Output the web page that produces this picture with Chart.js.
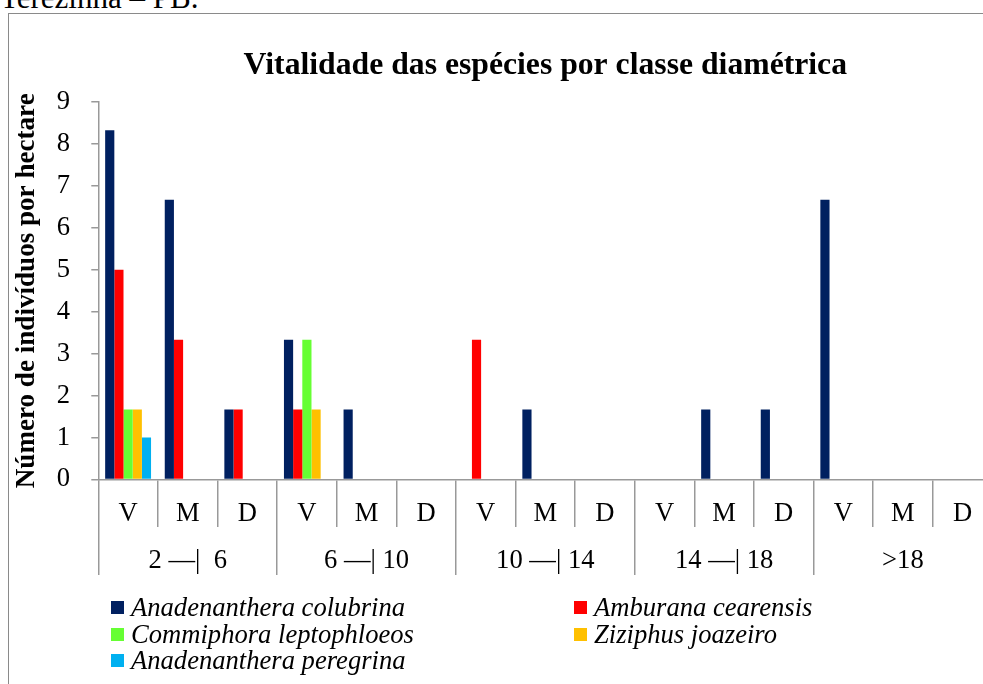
<!DOCTYPE html>
<html>
<head>
<meta charset="utf-8">
<script src="https://cdn.jsdelivr.net/npm/chart.js@4/dist/chart.umd.min.js"></script>
<style>
  html, body { margin: 0; padding: 0; background: #fff; overflow: hidden; width: 983px; height: 684px; }
  #wrap { position: absolute; left: 0; top: 0; width: 1000px; height: 684px; }
  #frame { position: absolute; left: 8px; top: 13px; width: 1200px; height: 1000px; border: 1px solid #8a8a8a; box-sizing: border-box; pointer-events: none; }
  #caption { position: absolute; left: 0px; top: -18px; font: 31px/31px 'Liberation Serif', 'Times New Roman', serif; color: #000; white-space: nowrap; }
  #legend { position: absolute; left: 111px; top: 594px; display: grid; grid-template-columns: 463px 400px; font: italic 26.6px/26.5px 'Liberation Serif', 'Times New Roman', serif; color: #000; }
  #legend .item { white-space: nowrap; }
  #legend .box { display: inline-block; width: 13px; height: 13px; margin-right: 7px; vertical-align: 2px; }
</style>
</head>
<body>
<div id="caption">Terezinha – PB.</div>
<div id="frame"></div>
<div id="wrap"><canvas id="c" width="1000" height="684"></canvas></div>
<div id="legend"></div>
<script>
// ---- data ----
const categories = ['V', 'M', 'D', 'V', 'M', 'D', 'V', 'M', 'D', 'V', 'M', 'D', 'V', 'M', 'D'];
const classLabels = ['2 —|  6', '6 —| 10', '10 —| 14', '14 —| 18', '>18'];
const yTicks = [0, 1, 2, 3, 4, 5, 6, 7, 8, 9];
const seriesNames = ['Anadenanthera colubrina', 'Amburana cearensis', 'Commiphora leptophloeos', 'Ziziphus joazeiro', 'Anadenanthera peregrina'];
const colubrina  = [8.33, 6.67, 1.67, 3.33, 1.67, 0, 0, 1.67, 0, 0, 1.67, 1.67, 6.67, 0, 0];
const amburana   = [5.00, 3.33, 1.67, 1.67, 0, 0, 3.33, 0, 0, 0, 0, 0, 0, 0, 0];
const commiphora = [1.67, 0, 0, 3.33, 0, 0, 0, 0, 0, 0, 0, 0, 0, 0, 0];
const ziziphus   = [1.67, 0, 0, 1.67, 0, 0, 0, 0, 0, 0, 0, 0, 0, 0, 0];
const peregrina  = [1.00, 0, 0, 0, 0, 0, 0, 0, 0, 0, 0, 0, 0, 0, 0];
const seriesColors = ['#002060', '#FF0000', '#66FF33', '#FFC000', '#00B0F0'];
const seriesValues = [colubrina, amburana, commiphora, ziziphus, peregrina];

const FONT = "'Liberation Serif', 'Times New Roman', serif";
const AXIS = '#999999';

const datasets = seriesNames.map((name, i) => ({
  label: name,
  data: seriesValues[i],
  backgroundColor: seriesColors[i],
  borderWidth: 0,
  categoryPercentage: 0.77,
  barPercentage: 1.0
}));

const chart = new Chart(document.getElementById('c'), {
  type: 'bar',
  data: { labels: categories, datasets },
  options: {
    responsive: false,
    animation: false,
    devicePixelRatio: 1,
    layout: { padding: { left: 6.84, right: 7.7, top: 0, bottom: 102 } },
    plugins: {
      legend: { display: false },
      tooltip: { enabled: false },
      title: {
        display: true,
        text: 'Vitalidade das espécies por classe diamétrica',
        fullSize: false,
        color: '#000',
        font: { family: FONT, size: 31.7, weight: 'bold', lineHeight: 1.2 },
        padding: { top: 47, bottom: 17 }
      }
    },
    scales: {
      y: {
        min: 0, max: 9,
        afterFit: s => { s.width = 91.46; },
        afterBuildTicks: s => { s.ticks = yTicks.map(v => ({ value: v })); },
        ticks: { stepSize: 1, color: '#000', padding: 21.3, font: { family: FONT, size: 26.6 } },
        grid: { drawOnChartArea: false, tickLength: 7, color: AXIS, lineWidth: 1.5 },
        border: { color: AXIS, width: 1.5 },
        title: {
          display: true,
          text: 'Número de indivíduos por hectare',
          color: '#000',
          font: { family: FONT, size: 27.1, weight: 'bold', lineHeight: 1.2 },
          padding: { top: 3.7, bottom: 4 }
        }
      },
      x: {
        type: 'category',
        position: 'bottom',
        weight: 0,
        offset: true,
        afterFit: s => { s.height = 47.5; },
        ticks: { color: '#000', padding: -28.5, autoSkip: false, maxRotation: 0, font: { family: FONT, size: 26.6 } },
        grid: { offset: true, drawOnChartArea: false, tickLength: 47.5, color: AXIS, lineWidth: 1.5 },
        border: { color: AXIS, width: 1.5 }
      },
      x2: {
        type: 'category',
        position: 'bottom',
        weight: 1,
        labels: classLabels,
        offset: true,
        afterFit: s => { s.height = 55; },
        ticks: { color: '#000', padding: -29.5, autoSkip: false, maxRotation: 0, font: { family: FONT, size: 26.6 } },
        grid: { offset: true, drawOnChartArea: false, tickLength: 48, color: AXIS, lineWidth: 1.5 },
        border: { display: false }
      }
    }
  }
});

// HTML legend built from the chart's datasets
const legend = document.getElementById('legend');
chart.data.datasets.forEach(ds => {
  const item = document.createElement('div');
  item.className = 'item';
  const box = document.createElement('span');
  box.className = 'box';
  box.style.background = ds.backgroundColor;
  const txt = document.createElement('span');
  txt.textContent = ds.label;
  item.appendChild(box);
  item.appendChild(txt);
  legend.appendChild(item);
});
</script>
</body>
</html>
